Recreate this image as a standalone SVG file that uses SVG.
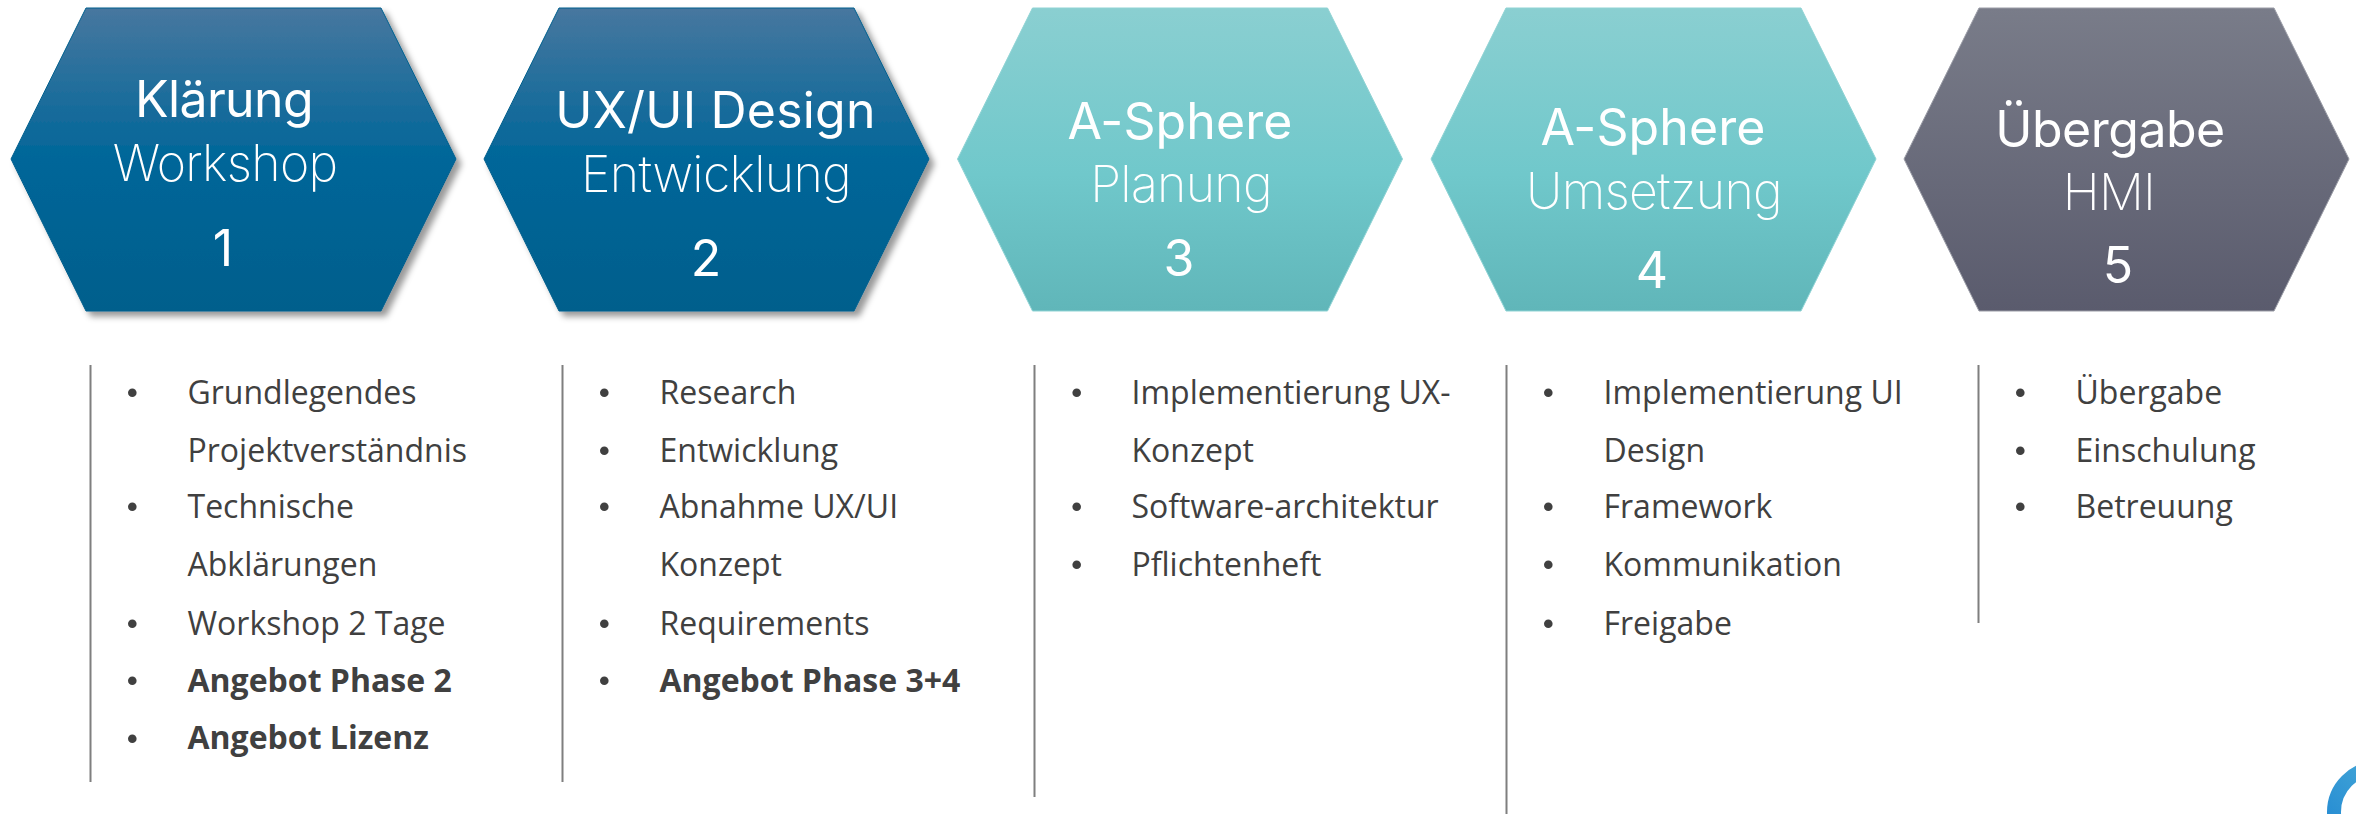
<svg xmlns="http://www.w3.org/2000/svg" width="2356" height="814" viewBox="0 0 2356 814">
<style>
.h{font-family:Inter,"Liberation Sans",sans-serif;font-size:50px;fill:#fff;text-anchor:middle}
.t{font-weight:380}.s{font-weight:250;letter-spacing:-.7px}
.b{font-family:"Open Sans","Liberation Sans",sans-serif;font-size:32px;fill:#404040}
.bb{font-weight:700}
.d{fill:#404040}
.r{stroke:#7f7f7f;stroke-width:2;fill:none}
.blue{fill:url(#gb);stroke:#005f8d;stroke-width:1;filter:url(#sh)}
.teal{fill:url(#gt);stroke:#8fd3d4;stroke-width:1}
.gray{fill:url(#gg);stroke:#9a9ca6;stroke-width:1}
</style>
<defs>
<linearGradient id="gb" x1="0" y1="0" x2="0" y2="1"><stop offset="0" stop-color="#47779f"/><stop offset=".5" stop-color="#006699"/><stop offset="1" stop-color="#005f8c"/></linearGradient>
<linearGradient id="gt" x1="0" y1="0" x2="0" y2="1"><stop offset="0" stop-color="#8acfd1"/><stop offset=".55" stop-color="#70c8cb"/><stop offset="1" stop-color="#60b6b9"/></linearGradient>
<linearGradient id="gg" x1="0" y1="0" x2="0" y2="1"><stop offset="0" stop-color="#797c89"/><stop offset="1" stop-color="#5a5b6d"/></linearGradient>
<linearGradient id="gl" x1="0" y1="1" x2="1" y2="0"><stop offset="0" stop-color="#1f86d2"/><stop offset="1" stop-color="#4fb0d8"/></linearGradient>
<filter id="sh" x="-5%" y="-5%" width="115%" height="115%"><feDropShadow dx="5" dy="5" stdDeviation="3" flood-color="#000" flood-opacity=".4"/></filter>
<polygon id="hex" points="11,159 86,8 381,8 456,159 381,311 86,311"/>
</defs>
<rect width="2356" height="814" fill="#fff"/>
<g id="node-1">
<use href="#hex" class="blue"/>
<text class="h t" x="224" y="117" letter-spacing="-.6">Klärung</text>
<text class="h s" x="225" y="181">Workshop</text>
<text class="h t" x="223" y="266">1</text>
</g>
<g id="node-2">
<use href="#hex" x="473" class="blue"/>
<text class="h t" x="715.5" y="128" letter-spacing=".2">UX/UI Design</text>
<text class="h s" x="716" y="192">Entwicklung</text>
<text class="h t" x="706" y="276">2</text>
</g>
<g id="node-3">
<use href="#hex" x="946.5" class="teal"/>
<text class="h t" x="1180" y="139" letter-spacing=".1">A-Sphere</text>
<text class="h s" x="1181" y="202">Planung</text>
<text class="h t" x="1179" y="276">3</text>
</g>
<g id="node-4">
<use href="#hex" x="1420" class="teal"/>
<text class="h t" x="1653" y="145" letter-spacing=".1">A-Sphere</text>
<text class="h s" x="1654" y="209">Umsetzung</text>
<text class="h t" x="1652" y="288">4</text>
</g>
<g id="node-5">
<use href="#hex" x="1893" class="gray"/>
<text class="h t" x="2110" y="147" letter-spacing="-.5">Übergabe</text>
<text class="h s" x="2109" y="210" letter-spacing=".5">HMI</text>
<text class="h t" x="2118" y="283">5</text>
</g>
<g id="connectors">
<line class="r" x1="90.5" y1="365" x2="90.5" y2="782"/>
<line class="r" x1="562.5" y1="365" x2="562.5" y2="782"/>
<line class="r" x1="1034.5" y1="365" x2="1034.5" y2="797"/>
<line class="r" x1="1506.5" y1="365" x2="1506.5" y2="814"/>
<line class="r" x1="1978.5" y1="365" x2="1978.5" y2="623"/>
</g>
<g id="list-1">
<circle class="d" cx="132.3" cy="392.7" r="4.3"/><text class="b" x="187.5" y="404">Grundlegendes</text>
<text class="b" x="187.5" y="462">Projektverständnis</text>
<circle class="d" cx="132.3" cy="506.7" r="4.3"/><text class="b" x="187.5" y="518">Technische</text>
<text class="b" x="187.5" y="576">Abklärungen</text>
<circle class="d" cx="132.3" cy="623.7" r="4.3"/><text class="b" x="187.5" y="634.5">Workshop 2 Tage</text>
<circle class="d" cx="132.3" cy="680.7" r="4.3"/><text class="b bb" x="187.5" y="691.5">Angebot Phase 2</text>
<circle class="d" cx="132.3" cy="738.7" r="4.3"/><text class="b bb" x="187.5" y="749">Angebot Lizenz</text>
</g>
<g id="list-2">
<circle class="d" cx="604.3" cy="392.7" r="4.3"/><text class="b" x="659.5" y="404">Research</text>
<circle class="d" cx="604.3" cy="450.7" r="4.3"/><text class="b" x="659.5" y="462">Entwicklung</text>
<circle class="d" cx="604.3" cy="506.7" r="4.3"/><text class="b" x="659.5" y="518">Abnahme UX/UI</text>
<text class="b" x="659.5" y="576">Konzept</text>
<circle class="d" cx="604.3" cy="623.7" r="4.3"/><text class="b" x="659.5" y="634.5">Requirements</text>
<circle class="d" cx="604.3" cy="680.7" r="4.3"/><text class="b bb" x="659.5" y="691.5">Angebot Phase 3+4</text>
</g>
<g id="list-3">
<circle class="d" cx="1076.7" cy="392.7" r="4.3"/><text class="b" x="1131.5" y="404">Implementierung UX-</text>
<text class="b" x="1131.5" y="462">Konzept</text>
<circle class="d" cx="1076.7" cy="506.7" r="4.3"/><text class="b" x="1131.5" y="518">Software-architektur</text>
<circle class="d" cx="1076.7" cy="564.7" r="4.3"/><text class="b" x="1131.5" y="576">Pflichtenheft</text>
</g>
<g id="list-4">
<circle class="d" cx="1548.3" cy="392.7" r="4.3"/><text class="b" x="1603.5" y="404">Implementierung UI</text>
<text class="b" x="1603.5" y="462">Design</text>
<circle class="d" cx="1548.3" cy="506.7" r="4.3"/><text class="b" x="1603.5" y="518">Framework</text>
<circle class="d" cx="1548.3" cy="564.7" r="4.3"/><text class="b" x="1603.5" y="576">Kommunikation</text>
<circle class="d" cx="1548.3" cy="623.7" r="4.3"/><text class="b" x="1603.5" y="634.5">Freigabe</text>
</g>
<g id="list-5">
<circle class="d" cx="2020.3" cy="392.7" r="4.3"/><text class="b" x="2075.5" y="404">Übergabe</text>
<circle class="d" cx="2020.3" cy="450.7" r="4.3"/><text class="b" x="2075.5" y="462">Einschulung</text>
<circle class="d" cx="2020.3" cy="506.7" r="4.3"/><text class="b" x="2075.5" y="518">Betreuung</text>
</g>
<g id="logo">
<circle cx="2378" cy="812" r="44" fill="none" stroke="url(#gl)" stroke-width="14"/>
</g>
</svg>
